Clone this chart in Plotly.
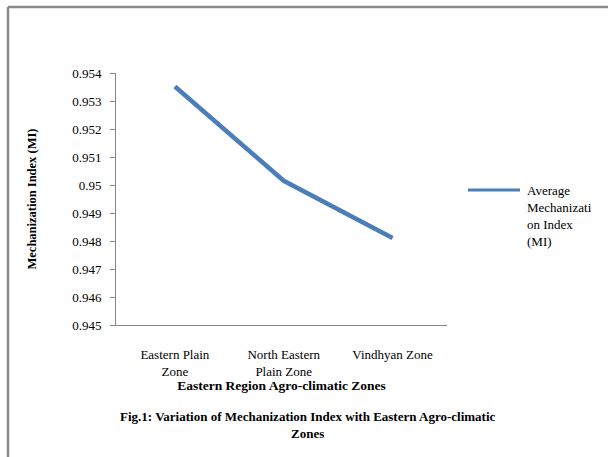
import plotly.graph_objects as go

zones = ["Eastern Plain<br>Zone", "North Eastern<br>Plain Zone", "Vindhyan Zone"]
mi_values = [0.95352, 0.95015, 0.94811]
y_tick_vals = [0.945, 0.946, 0.947, 0.948, 0.949, 0.95, 0.951, 0.952, 0.953, 0.954]
y_tick_text = ["0.945", "0.946", "0.947", "0.948", "0.949", "0.95", "0.951", "0.952", "0.953", "0.954"]
series_name = "Average<br>Mechanizati<br>on Index<br>(MI)"
x_title = "Eastern Region Agro-climatic Zones"
y_title = "Mechanization Index (MI)"
caption = "Fig.1: Variation of Mechanization Index with Eastern Agro-climatic<br>Zones"

FONT = "Liberation Serif, Times New Roman, serif"
BLUE = "#4a7ebb"
GRAY = "#868686"

L, T, W, H = 116, 73, 331, 252
def px(x):
    return (x - L) / W
def py(y):
    return (T + H - y) / H

fig = go.Figure()
fig.add_trace(go.Scatter(
    x=list(range(len(zones))), y=mi_values, mode="lines",
    line=dict(color=BLUE, width=4.5), name=series_name, showlegend=False,
))

fig.update_layout(
    width=608, height=457,
    margin=dict(l=L, r=608 - L - W, t=T, b=457 - T - H),
    paper_bgcolor="white", plot_bgcolor="white",
    font=dict(family=FONT, size=13, color="black"),
    xaxis=dict(
        tickmode="array", tickvals=list(range(len(zones))), ticktext=zones,
        range=[-0.541, 2.5], showgrid=False, zeroline=False,
        showline=True, linecolor=GRAY, linewidth=1, ticks="",
        ticklabelstandoff=17, tickfont=dict(size=13),
        title=dict(text="<b>" + x_title + "</b>", font=dict(size=13.5), standoff=0),
    ),
    yaxis=dict(
        tickmode="array", tickvals=y_tick_vals, ticktext=y_tick_text,
        range=[0.945, 0.954], showgrid=False, zeroline=False,
        showline=True, linecolor=GRAY, linewidth=1,
        ticks="outside", ticklen=5, tickcolor=GRAY,
        ticklabelstandoff=6,
        title=dict(text="<b>" + y_title + "</b>", font=dict(size=12.5), standoff=32),
    ),
)

# outer frame (gray border at top and left)
fig.add_shape(type="line", xref="paper", yref="paper",
              x0=px(8), x1=px(640), y0=py(7), y1=py(7),
              line=dict(color="#8a8a8a", width=2.5))
fig.add_shape(type="line", xref="paper", yref="paper",
              x0=px(8), x1=px(8), y0=py(7), y1=py(480),
              line=dict(color="#8a8a8a", width=2.5))

# legend (manual)
fig.add_shape(type="line", xref="paper", yref="paper",
              x0=px(468), x1=px(520), y0=py(190), y1=py(190),
              line=dict(color=BLUE, width=3))
fig.add_annotation(xref="paper", yref="paper", x=px(525), y=py(181),
                   xanchor="left", yanchor="top", align="left",
                   text=series_name, showarrow=False, font=dict(size=13))

# caption
fig.add_annotation(xref="paper", yref="paper", x=px(308), y=py(407),
                   xanchor="center", yanchor="top", align="center",
                   text="<b>" + caption + "</b>", showarrow=False,
                   font=dict(size=13))

fig.write_html("out.html")
